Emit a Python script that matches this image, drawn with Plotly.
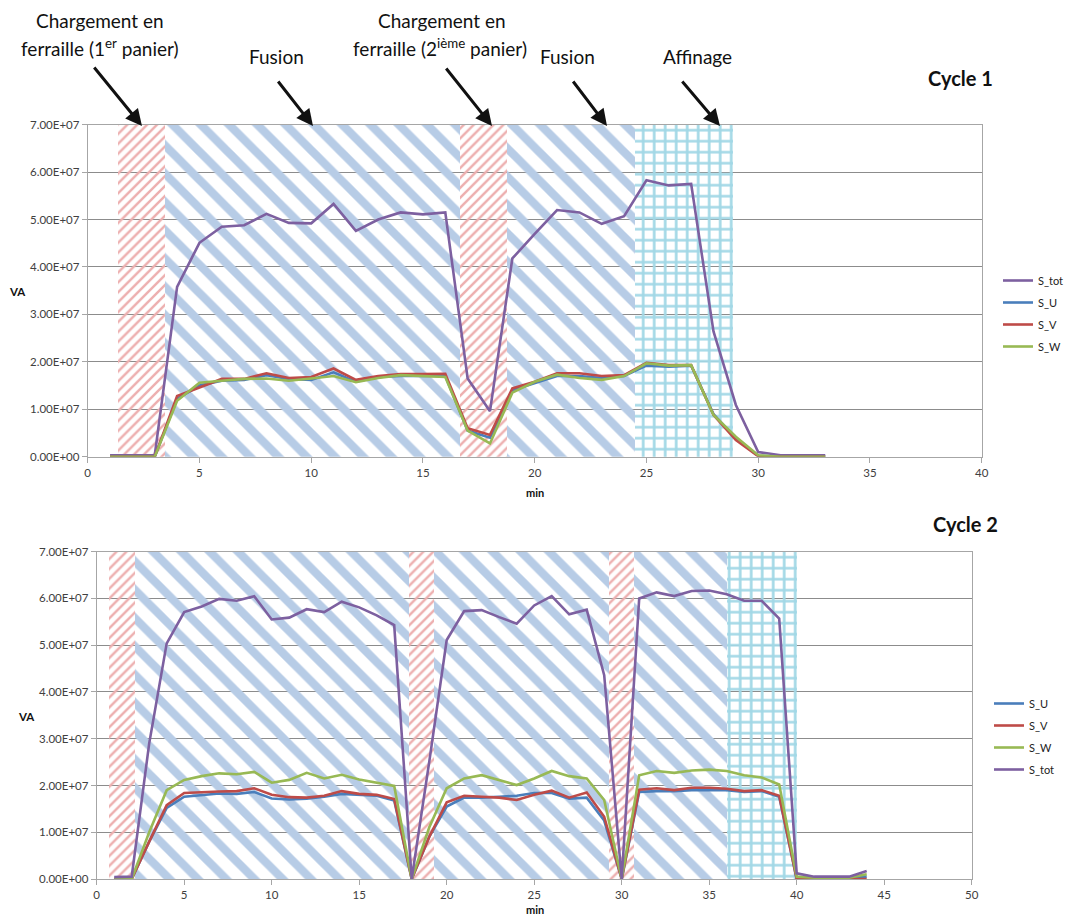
import plotly.graph_objects as go

# ---------------- data ----------------
top_x = list(range(1, 34))
top_S_tot = [0.03, 0.03, 0.03, 3.58, 4.51, 4.85, 4.88, 5.12, 4.93, 4.92, 5.33, 4.76, 5.00, 5.15, 5.11, 5.15,
             1.65, 0.96, 4.18, 4.70, 5.20, 5.15, 4.91, 5.07, 5.83, 5.72, 5.75, 2.64, 1.09, 0.10, 0.03, 0.03, 0.03]
top_S_U = [0, 0, 0, 1.22, 1.50, 1.60, 1.62, 1.72, 1.64, 1.62, 1.78, 1.58, 1.68, 1.70, 1.70, 1.70,
           0.55, 0.40, 1.40, 1.55, 1.70, 1.70, 1.66, 1.70, 1.92, 1.90, 1.92, 0.90, 0.38, 0.02, 0, 0, 0]
top_S_V = [0, 0, 0, 1.28, 1.46, 1.64, 1.64, 1.76, 1.66, 1.68, 1.86, 1.62, 1.70, 1.74, 1.74, 1.75,
           0.60, 0.46, 1.44, 1.58, 1.76, 1.76, 1.70, 1.72, 1.98, 1.93, 1.93, 0.88, 0.35, 0.01, 0, 0, 0]
top_S_W = [0, 0, 0, 1.18, 1.56, 1.60, 1.64, 1.65, 1.60, 1.65, 1.70, 1.57, 1.66, 1.72, 1.70, 1.68,
           0.55, 0.28, 1.35, 1.58, 1.73, 1.66, 1.62, 1.70, 1.97, 1.92, 1.93, 0.88, 0.42, 0.03, 0, 0, 0]

bot_x = list(range(1, 45))
bot_S_tot = [0.04, 0.05, 2.90, 5.04, 5.71, 5.83, 5.99, 5.95, 6.05, 5.55, 5.59, 5.77, 5.71, 5.93, 5.81, 5.64, 5.43,
             0.0, 2.50, 5.11, 5.73, 5.75, 5.60, 5.46, 5.85, 6.05, 5.66, 5.76, 4.36,
             0.0, 6.00, 6.13, 6.05, 6.16, 6.17, 6.09, 5.95, 5.95, 5.57, 0.12, 0.05, 0.05, 0.05, 0.17]
bot_S_U = [0, 0, 0.80, 1.52, 1.76, 1.80, 1.83, 1.82, 1.86, 1.72, 1.70, 1.72, 1.76, 1.82, 1.80, 1.78, 1.68,
           0, 0.90, 1.55, 1.74, 1.74, 1.76, 1.78, 1.84, 1.84, 1.72, 1.74, 1.25,
           0, 1.86, 1.88, 1.88, 1.90, 1.90, 1.90, 1.86, 1.88, 1.76, 0, 0.02, 0.02, 0.02, 0.05]
bot_S_V = [0, 0, 0.80, 1.58, 1.84, 1.86, 1.87, 1.88, 1.94, 1.80, 1.75, 1.74, 1.78, 1.88, 1.82, 1.80, 1.71,
           0, 0.90, 1.64, 1.78, 1.76, 1.74, 1.69, 1.80, 1.89, 1.74, 1.85, 1.33,
           0, 1.91, 1.94, 1.90, 1.95, 1.95, 1.93, 1.88, 1.90, 1.78, 0, 0, 0, 0, 0]
bot_S_W = [0, 0, 1.00, 1.90, 2.12, 2.20, 2.26, 2.24, 2.29, 2.06, 2.12, 2.27, 2.15, 2.23, 2.13, 2.06, 1.99,
           0, 1.10, 1.94, 2.15, 2.22, 2.12, 2.01, 2.15, 2.31, 2.20, 2.15, 1.69,
           0, 2.22, 2.31, 2.27, 2.32, 2.34, 2.31, 2.22, 2.17, 2.02, 0.05, 0.03, 0.03, 0.03, 0.10]
UNIT = 1e7

# phases (min)
top_phase_start = [1.32, 3.46, 16.63, 18.75, 24.46]
top_phase_end = [3.46, 16.63, 18.75, 24.46, 28.86]
top_phase_kind = ["charge", "fusion", "charge", "fusion", "affinage"]
bot_phase_start = [0.66, 2.19, 17.80, 19.27, 29.27, 30.70, 36.00]
bot_phase_end = [2.19, 17.80, 19.27, 29.27, 30.70, 36.00, 40.00]
bot_phase_kind = ["charge", "fusion", "charge", "fusion", "charge", "fusion", "affinage"]
phase_top_value = 7e7

y_tickvals = [0, 1e7, 2e7, 3e7, 4e7, 5e7, 6e7, 7e7]
y_ticktext = ["0.00E+00", "1.00E+07", "2.00E+07", "3.00E+07", "4.00E+07", "5.00E+07", "6.00E+07", "7.00E+07"]

COL = {"S_tot": "#7D60A0", "S_U": "#4A7EBB", "S_V": "#BE4B48", "S_W": "#98B954"}
PAT = {
    "charge": dict(shape="/", fgcolor="#EDAFAF", size=7, solidity=0.35),
    "fusion": dict(shape="\\", fgcolor="#B7CCE6", size=20, solidity=0.42),
    "affinage": dict(shape="+", fgcolor="#A2D8E6", size=11, solidity=0.42),
}

FONT = "Lato"
W, H = 1066, 917

fig = go.Figure()


def add_phases(starts, ends, kinds, xa, ya):
    for s, e, k in zip(starts, ends, kinds):
        p = PAT[k]
        fig.add_trace(go.Bar(
            x=[(s + e) / 2], y=[phase_top_value], width=[e - s], base=[0],
            xaxis=xa, yaxis=ya, showlegend=False, hoverinfo="skip",
            marker=dict(color=p["fgcolor"], line=dict(width=0),
                        pattern=dict(shape=p["shape"], fgcolor=p["fgcolor"],
                                     bgcolor="rgba(255,255,255,0)", size=p["size"],
                                     solidity=p["solidity"], fillmode="replace")),
        ))


add_phases(top_phase_start, top_phase_end, top_phase_kind, "x", "y")
add_phases(bot_phase_start, bot_phase_end, bot_phase_kind, "x2", "y2")

top_series = [("S_tot", top_S_tot), ("S_U", top_S_U), ("S_V", top_S_V), ("S_W", top_S_W)]
for i, (name, vals) in enumerate(top_series):
    fig.add_trace(go.Scatter(
        x=top_x, y=[v * UNIT for v in vals], mode="lines", name=name,
        line=dict(color=COL[name], width=2.6), xaxis="x", yaxis="y",
        legend="legend", legendgroup="t" + name, legendrank=i + 1,
    ))

bot_series = [("S_U", bot_S_U), ("S_V", bot_S_V), ("S_W", bot_S_W), ("S_tot", bot_S_tot)]
for i, (name, vals) in enumerate(bot_series):
    fig.add_trace(go.Scatter(
        x=bot_x, y=[v * UNIT for v in vals], mode="lines", name=name,
        line=dict(color=COL[name], width=2.6), xaxis="x2", yaxis="y2",
        legend="legend2", legendgroup="b" + name, legendrank=i + 1,
    ))

axis_common = dict(showline=True, linecolor="#A6A6A6", linewidth=1, mirror=True,
                   ticks="outside", ticklen=5, tickcolor="#A6A6A6",
                   tickfont=dict(family=FONT, size=11.5, color="#404040"), zeroline=False)

fig.update_layout(
    width=W, height=H, margin=dict(l=0, r=0, t=0, b=0, autoexpand=False),
    paper_bgcolor="white", plot_bgcolor="white",
    barmode="overlay", bargap=0, showlegend=True,
    font=dict(family=FONT, color="#000000"),
    xaxis=dict(domain=[87.7 / W, 981.7 / W], range=[0, 40], dtick=5, tick0=0,
               showgrid=False, anchor="y", **axis_common),
    yaxis=dict(domain=[1 - 456.7 / H, 1 - 124.7 / H], range=[0, 7e7],
               tickvals=y_tickvals, ticktext=y_ticktext, showgrid=True,
               gridcolor="#8C8C8C", gridwidth=1, anchor="x", **axis_common),
    xaxis2=dict(domain=[96.7 / W, 971.7 / W], range=[0, 50], dtick=5, tick0=0,
                showgrid=False, anchor="y2", **axis_common),
    yaxis2=dict(domain=[1 - 879 / H, 1 - 551.7 / H], range=[0, 7e7],
                tickvals=y_tickvals, ticktext=y_ticktext, showgrid=True,
                gridcolor="#8C8C8C", gridwidth=1, anchor="x2", **axis_common),
    legend=dict(x=998 / W, y=1 - 266 / H, xanchor="left", yanchor="top",
                font=dict(family=FONT, size=11, color="#222"), bgcolor="rgba(0,0,0,0)",
                itemwidth=30, tracegroupgap=3),
    legend2=dict(x=989 / W, y=1 - 689 / H, xanchor="left", yanchor="top",
                 font=dict(family=FONT, size=11, color="#222"), bgcolor="rgba(0,0,0,0)",
                 itemwidth=30, tracegroupgap=3),
)

ann = []


def text(px, py, t, size=18, xanchor="center"):
    ann.append(dict(x=px / W, y=1 - py / H, xref="paper", yref="paper", text=t,
                    showarrow=False, xanchor=xanchor, yanchor="middle",
                    font=dict(family=FONT, size=size, color="#111")))


def arrow(tx, ty, hx, hy):
    ann.append(dict(x=hx / W, y=1 - hy / H, xref="paper", yref="paper", text="",
                    showarrow=True, ax=tx - hx, ay=ty - hy, axref="pixel", ayref="pixel",
                    arrowhead=2, arrowsize=1.1, arrowwidth=3, arrowcolor="#111"))


text(100, 20, "Chargement en", size=19)
text(100, 47, "ferraille (1<sup>er</sup> panier)", size=19)
text(276, 57, "Fusion", size=19)
text(442, 20, "Chargement en", size=19)
text(440, 47, "ferraille (2<sup>ième</sup> panier)", size=19)
text(567, 57, "Fusion", size=19)
text(697, 57, "Affinage", size=19)
text(960, 78, "<b>Cycle 1</b>", size=20)
text(965, 524, "<b>Cycle 2</b>", size=20)

arrow(93, 66, 142, 126)
arrow(277, 80, 313, 126)
arrow(445, 67, 492, 126)
arrow(572, 80, 607, 126)
arrow(681, 80, 720, 126)

text(17, 291, "<b>VA</b>", size=11.5)
text(26, 716, "<b>VA</b>", size=11.5)
text(535, 492, "<b>min</b>", size=11)
text(535, 909, "<b>min</b>", size=11)

fig.update_layout(annotations=ann)
fig.write_html("out.html", config={"displayModeBar": False},
               post_script="document.body.style.margin='0';document.body.style.overflow='hidden';")
